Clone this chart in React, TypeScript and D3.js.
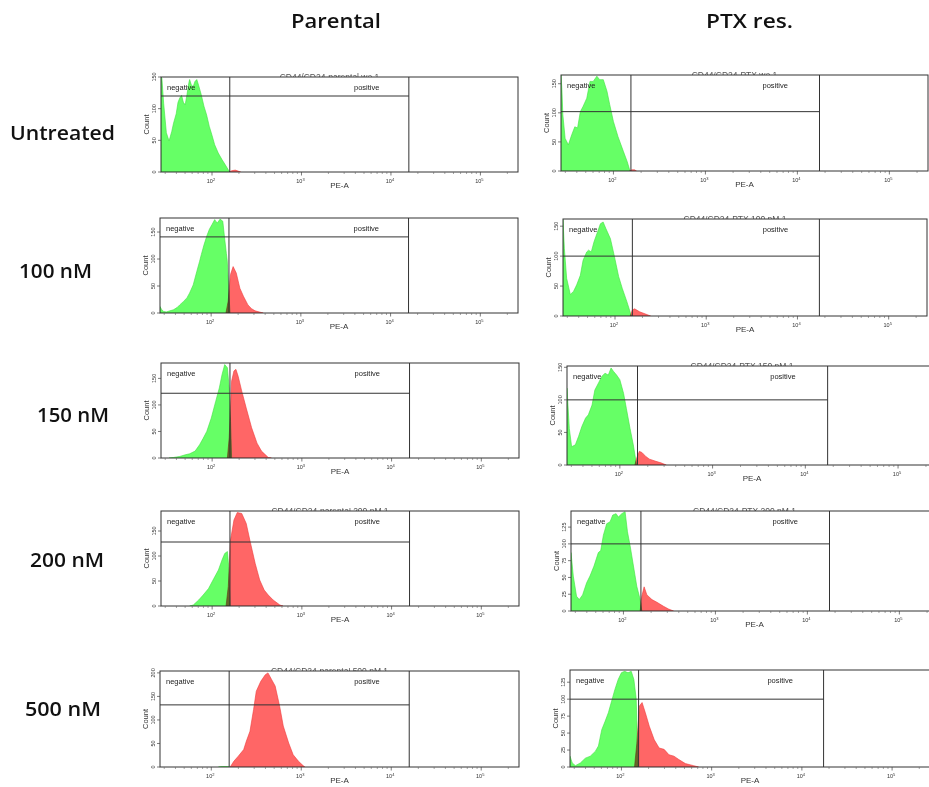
import React from "react";
import * as d3 from "d3";

type Pt = [number, number]; // [log10(PE-A), count]

const columnNames = ["Parental", "PTX res."];
const rowNames = ["Untreated", "100 nM", "150 nM", "200 nM", "500 nM"];
const xTickExponents = [2, 3, 4, 5];
const xDomainExp: [number, number] = [1.43, 5.42];
const gateLowParental = 158;
const gateHighParental = 15850;
const gateLowPtx = 155;
const gateHighPtx = 17400;

// Parental
const parUntreatedGreen: Pt[] = [[1.43,150],[1.44,148],[1.46,108],[1.49,62],[1.52,49],[1.55,64],[1.57,77],[1.60,92],[1.62,110],[1.64,117],[1.66,121],[1.68,110],[1.70,106],[1.72,122],[1.74,140],[1.75,146],[1.77,137],[1.79,135],[1.81,143],[1.83,146],[1.85,137],[1.88,122],[1.91,104],[1.94,90],[1.97,72],[2.00,58],[2.03,43],[2.07,30],[2.11,20],[2.15,11],[2.18,4],[2.20,0]];
const parUntreatedRed: Pt[] = [[2.19,0],[2.22,2],[2.26,3],[2.30,1],[2.32,0]];
const par100Green: Pt[] = [[1.43,12],[1.45,6],[1.47,3],[1.50,2],[1.54,4],[1.58,6],[1.62,10],[1.65,15],[1.69,21],[1.73,28],[1.76,37],[1.80,52],[1.84,77],[1.87,95],[1.89,108],[1.92,126],[1.95,142],[1.98,155],[2.01,164],[2.04,173],[2.05,170],[2.07,167],[2.10,174],[2.13,170],[2.15,139],[2.17,110],[2.18,96],[2.195,46],[2.21,0]];
const par100Red: Pt[] = [[2.165,0],[2.19,22],[2.215,71],[2.245,86],[2.28,74],[2.32,46],[2.36,31],[2.41,15],[2.45,8],[2.49,4],[2.58,0]];
const par150Green: Pt[] = [[1.52,0],[1.57,1],[1.64,3],[1.70,6],[1.75,8],[1.81,13],[1.86,25],[1.90,37],[1.94,50],[1.99,75],[2.04,107],[2.08,132],[2.11,157],[2.14,176],[2.17,170],[2.19,132],[2.205,69],[2.217,0]];
const par150Red: Pt[] = [[2.17,0],[2.19,38],[2.217,145],[2.243,164],[2.265,167],[2.29,154],[2.33,126],[2.38,94],[2.44,57],[2.50,28],[2.55,13],[2.60,5],[2.625,1],[2.66,0]];
const par200Green: Pt[] = [[1.75,0],[1.79,2],[1.85,12],[1.90,22],[1.96,35],[2.01,52],[2.07,72],[2.11,92],[2.14,105],[2.17,109],[2.185,79],[2.20,0]];
const par200Red: Pt[] = [[2.155,0],[2.18,39],[2.205,132],[2.243,172],[2.28,187],[2.33,185],[2.38,165],[2.42,132],[2.48,85],[2.53,52],[2.58,32],[2.625,22],[2.68,12],[2.755,2],[2.79,0]];
const par500Green: Pt[] = [[2.08,0],[2.12,1],[2.18,1],[2.20,0]];
const par500Red: Pt[] = [[2.21,0],[2.25,12],[2.30,23],[2.36,37],[2.39,55],[2.43,76],[2.47,122],[2.50,161],[2.55,182],[2.60,196],[2.63,200],[2.67,186],[2.71,172],[2.76,129],[2.80,87],[2.86,51],[2.91,26],[2.97,12],[3.02,3],[3.04,0]];

// PTX resistant
const ptxUntreatedGreen: Pt[] = [[1.43,165],[1.44,140],[1.45,97],[1.475,56],[1.51,45],[1.546,62],[1.58,76],[1.61,74],[1.64,102],[1.67,111],[1.71,125],[1.745,154],[1.78,154],[1.82,163],[1.85,157],[1.89,157],[1.93,137],[1.96,114],[2.00,85],[2.05,59],[2.11,33],[2.15,16],[2.18,0]];
const ptxUntreatedRed: Pt[] = [[2.175,0],[2.20,2],[2.23,2],[2.25,0]];
const ptx100Green: Pt[] = [[1.43,161],[1.445,113],[1.47,63],[1.51,36],[1.545,41],[1.58,52],[1.62,68],[1.65,93],[1.69,107],[1.71,110],[1.74,107],[1.77,124],[1.81,141],[1.84,154],[1.87,157],[1.90,146],[1.95,129],[1.99,102],[2.04,66],[2.08,46],[2.13,24],[2.18,0]];
const ptx100Red: Pt[] = [[2.168,0],[2.19,10],[2.215,12],[2.27,7],[2.34,3],[2.39,0]];
const ptx150Green: Pt[] = [[1.43,118],[1.455,56],[1.48,28],[1.52,31],[1.555,44],[1.59,59],[1.63,72],[1.66,77],[1.70,92],[1.73,115],[1.77,126],[1.805,136],[1.84,141],[1.875,138],[1.905,149],[1.93,144],[1.965,138],[2.00,131],[2.04,110],[2.07,87],[2.11,56],[2.145,31],[2.18,0]];
const ptx150Red: Pt[] = [[2.162,0],[2.18,10],[2.21,21],[2.24,19],[2.28,13],[2.32,9],[2.38,6],[2.45,3],[2.50,0]];
const ptx200Green: Pt[] = [[1.43,87],[1.455,52],[1.49,22],[1.52,17],[1.556,24],[1.60,42],[1.636,52],[1.68,67],[1.727,87],[1.753,90],[1.782,113],[1.818,130],[1.855,133],[1.884,143],[1.92,145],[1.945,140],[1.982,145],[2.018,148],[2.044,118],[2.073,97],[2.109,67],[2.145,37],[2.182,17],[2.20,0]];
const ptx200Red: Pt[] = [[2.182,0],[2.20,22],[2.225,36],[2.255,24],[2.31,17],[2.364,13],[2.436,7],[2.49,3],[2.545,0]];
const ptx500Green: Pt[] = [[1.43,16],[1.455,6],[1.49,2],[1.545,6],[1.60,13],[1.655,16],[1.71,23],[1.745,31],[1.782,55],[1.818,67],[1.855,80],[1.891,97],[1.927,114],[1.964,129],[2.00,139],[2.036,141],[2.073,139],[2.109,141],[2.138,129],[2.164,100],[2.185,0]];
const ptx500Red: Pt[] = [[2.145,0],[2.171,35],[2.20,90],[2.229,95],[2.265,80],[2.309,60],[2.364,40],[2.418,28],[2.473,26],[2.527,18],[2.582,16],[2.636,11],[2.709,5],[2.80,2],[2.855,0]];

const yMaxes = [150, 176, 179, 190, 204, 165, 162, 152, 149, 143];
const gateCounts = [120, 141, 122, 128, 132, 102, 100, 100, 100, 100];
const yTickSets = [
  [0, 50, 100, 150], [0, 50, 100, 150], [0, 50, 100, 150], [0, 50, 100, 150], [0, 50, 100, 150, 200],
  [0, 50, 100, 150], [0, 50, 100, 150], [0, 50, 100, 150], [0, 25, 50, 75, 100, 125], [0, 25, 50, 75, 100, 125],
];
const titles = [
  "CD44/CD24-parental wo 1", "CD44/CD24-parental 100 nM 1", "CD44/CD24-parental 150 nM 1", "CD44/CD24-parental 200 nM 1", "CD44/CD24-parental 500 nM 1",
  "CD44/CD24-PTX wo 1", "CD44/CD24-PTX 100 nM 1", "CD44/CD24-PTX 150 nM 1", "CD44/CD24-PTX 200 nM 1", "CD44/CD24-PTX 500 nM 1",
];
const greens = [parUntreatedGreen, par100Green, par150Green, par200Green, par500Green, ptxUntreatedGreen, ptx100Green, ptx150Green, ptx200Green, ptx500Green];
const reds = [parUntreatedRed, par100Red, par150Red, par200Red, par500Red, ptxUntreatedRed, ptx100Red, ptx150Red, ptx200Red, ptx500Red];

// layout (pixels): left, right (end of x domain), top, bottom, visible title strip
const boxes = [
  { l: 161, r: 518, t: 77, b: 172, ts: 4 },
  { l: 160, r: 518, t: 218, b: 313, ts: 0 },
  { l: 161, r: 519, t: 363, b: 458, ts: 0 },
  { l: 161, r: 519, t: 511, b: 606, ts: 3 },
  { l: 160, r: 519, t: 671, b: 767, ts: 3 },
  { l: 561, r: 928, t: 75, b: 171, ts: 3 },
  { l: 563, r: 927, t: 219, b: 316, ts: 3 },
  { l: 567, r: 937, t: 366, b: 465, ts: 3 },
  { l: 571, r: 938, t: 511, b: 611, ts: 3 },
  { l: 570, r: 930, t: 670, b: 767, ts: 0 },
];

const headerPos = [{ x: 291, w: 90 }, { x: 706, w: 87 }];
const rowLabelPos = [
  { x: 10, y: 140, w: 105 }, { x: 19, y: 278, w: 73 }, { x: 37, y: 422, w: 72 }, { x: 30, y: 567, w: 74 }, { x: 25, y: 716, w: 76 },
];

const AX = "#333";
const SMALL_FONT = "Liberation Sans, Arial, sans-serif";

function Panel({ i }: { i: number }) {
  const bx = boxes[i];
  const isPtx = i >= 5;
  const x = d3.scaleLog().domain([10 ** xDomainExp[0], 10 ** xDomainExp[1]]).range([bx.l, bx.r]);
  const y = d3.scaleLinear().domain([0, yMaxes[i]]).range([bx.b, bx.t]);
  const area = d3.area<Pt>().x((d) => x(10 ** d[0])).y0(bx.b).y1((d) => y(d[1])).curve(d3.curveLinear);
  const gLow = isPtx ? gateLowPtx : gateLowParental;
  const gHigh = isPtx ? gateHighPtx : gateHighParental;
  const xg1 = x(gLow);
  const xg2 = x(gHigh);
  const yg = y(gateCounts[i]);
  const clipId = `clip${i}`;
  const titleClip = `tclip${i}`;
  const minor: number[] = [];
  for (let e = 1; e <= 5; e++) {
    for (let m = 2; m <= 9; m++) {
      const v = m * 10 ** e;
      if (v >= 10 ** xDomainExp[0] && v <= 10 ** xDomainExp[1]) minor.push(v);
    }
  }
  const midY = (bx.t + bx.b) / 2;
  const cx = (bx.l + bx.r) / 2;
  return (
    <g>
      <defs>
        <clipPath id={clipId}>
          <rect x={bx.l} y={bx.t} width={bx.r - bx.l} height={bx.b - bx.t} />
        </clipPath>
        <clipPath id={titleClip}>
          <rect x={bx.l} y={bx.t - bx.ts} width={bx.r - bx.l} height={bx.ts} />
        </clipPath>
      </defs>
      {bx.ts > 0 && (
        <text x={cx - 10} y={bx.t + 2.5} fontSize={8.5} fontFamily={SMALL_FONT} fill="#555" textAnchor="middle" clipPath={`url(#${titleClip})`}>
          {titles[i]}
        </text>
      )}
      <g clipPath={`url(#${clipId})`} style={{ isolation: "isolate" }}>
        <path d={area(greens[i]) || ""} fill="#66ff66" stroke="#3fe03f" strokeWidth={0.6} style={{ mixBlendMode: "multiply" }} />
        <path d={area(reds[i]) || ""} fill="#ff6666" stroke="#ee3a3a" strokeWidth={0.6} style={{ mixBlendMode: "multiply" }} />
      </g>
      {/* gates */}
      <line x1={xg1} x2={xg1} y1={bx.t} y2={bx.b} stroke={AX} strokeWidth={1} />
      <line x1={xg2} x2={xg2} y1={bx.t} y2={bx.b} stroke={AX} strokeWidth={1} />
      <line x1={bx.l} x2={xg2} y1={yg} y2={yg} stroke={AX} strokeWidth={1} />
      <text x={bx.l + 6} y={bx.t + 13} fontSize={7.5} fontFamily={SMALL_FONT} fill="#222">negative</text>
      <text x={xg1 + 0.765 * (xg2 - xg1)} y={bx.t + 13} fontSize={7.5} fontFamily={SMALL_FONT} fill="#222" textAnchor="middle">positive</text>
      {/* frame */}
      <rect x={bx.l} y={bx.t} width={bx.r - bx.l} height={bx.b - bx.t} fill="none" stroke={AX} strokeWidth={1} />
      {/* x ticks */}
      {minor.map((v) => (
        <line key={v} x1={x(v)} x2={x(v)} y1={bx.b} y2={bx.b + 2} stroke="#666" strokeWidth={0.6} />
      ))}
      {xTickExponents.map((e) => (
        <g key={e}>
          <line x1={x(10 ** e)} x2={x(10 ** e)} y1={bx.b} y2={bx.b + 3.5} stroke="#444" strokeWidth={0.7} />
          <text x={x(10 ** e) - 1} y={bx.b + 11} fontSize={5.5} fontFamily={SMALL_FONT} fill="#333" textAnchor="middle">
            10<tspan dy={-2.5} fontSize={4}>{e}</tspan>
          </text>
        </g>
      ))}
      <text x={cx} y={bx.b + 16} fontSize={8} fontFamily={SMALL_FONT} fill="#333" textAnchor="middle">PE-A</text>
      {/* y ticks */}
      {yTickSets[i].map((t) => (
        <g key={t}>
          <line x1={bx.l - 3} x2={bx.l} y1={y(t)} y2={y(t)} stroke="#444" strokeWidth={0.7} />
          <text transform={`translate(${bx.l - 5},${y(t)}) rotate(-90)`} fontSize={5.5} fontFamily={SMALL_FONT} fill="#333" textAnchor="middle">
            {t}
          </text>
        </g>
      ))}
      <text transform={`translate(${bx.l - 12},${midY}) rotate(-90)`} fontSize={7.5} fontFamily={SMALL_FONT} fill="#333" textAnchor="middle">
        Count
      </text>
    </g>
  );
}

export default function App() {
  const HF = "Open Sans, Roboto, sans-serif";
  return (
    <svg width={929} height={787} style={{ position: "absolute", left: 0, top: 0, background: "#fff" }}>
      {columnNames.map((c, k) => (
        <text key={c} x={headerPos[k].x} y={28} fontSize={19} fontWeight={600} fontFamily={HF} fill="#111" textLength={headerPos[k].w} lengthAdjust="spacingAndGlyphs">
          {c}
        </text>
      ))}
      {rowNames.map((r, k) => (
        <text key={r} x={rowLabelPos[k].x} y={rowLabelPos[k].y} fontSize={19} fontWeight={600} fontFamily={HF} fill="#111" textLength={rowLabelPos[k].w} lengthAdjust="spacingAndGlyphs">
          {r}
        </text>
      ))}
      {boxes.map((_, i) => (
        <Panel key={i} i={i} />
      ))}
    </svg>
  );
}
